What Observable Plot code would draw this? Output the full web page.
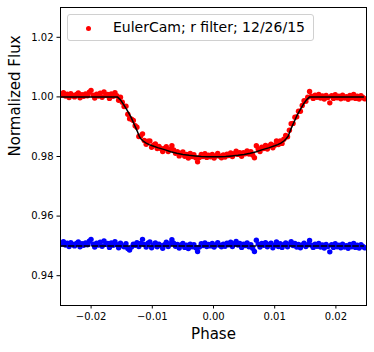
<!DOCTYPE html>
<html>
<head>
<meta charset="utf-8">
<script src="https://cdn.jsdelivr.net/npm/d3@7"></script>
<script src="https://cdn.jsdelivr.net/npm/@observablehq/plot@0.6"></script>
<style>
  html, body { margin: 0; padding: 0; background: #fff; }
  #wrap { position: relative; width: 374px; height: 352px; font-family: "DejaVu Sans", sans-serif; }
  #legend { position: absolute; left: 67px; top: 14px; width: 245px; height: 25px;
            border: 1px solid #d0d0d0; border-radius: 3px; background: rgba(255,255,255,0.8); }
  #legend .dot { position: absolute; left: 17.5px; top: 10.5px; width: 5px; height: 5px; border-radius: 50%; background: #ff0000; }
  #legend .txt { position: absolute; left: 45px; top: 3px; font-size: 14px; line-height: 18px; color: #000; white-space: nowrap; }
</style>
</head>
<body>
<div id="wrap">
  <div id="chart"></div>
  <div id="legend"><span class="dot"></span><span class="txt" id="legendText"></span></div>
</div>
<script>
const seriesLabel = "EulerCam; r filter; 12/26/15";
const xLabel = "Phase";
const yLabel = "Normalized Flux";
const xTicks = [-0.02, -0.01, 0.00, 0.01, 0.02];
const yTicks = [0.94, 0.96, 0.98, 1.00, 1.02];

const phase = [
  -0.02480, -0.02452, -0.02419, -0.02391, -0.02360, -0.02332, -0.02298, -0.02271, -0.02240, -0.02209,
  -0.02181, -0.02149, -0.02120, -0.02091, -0.02060, -0.02030, -0.02001, -0.01969, -0.01941, -0.01910,
  -0.01880, -0.01851, -0.01820, -0.01789, -0.01761, -0.01730, -0.01700, -0.01671, -0.01640, -0.01610,
  -0.01581, -0.01550, -0.01520, -0.01490, -0.01461, -0.01430, -0.01400, -0.01371, -0.01340, -0.01310,
  -0.01280, -0.01251, -0.01220, -0.01190, -0.01160, -0.01131, -0.01100, -0.01070, -0.01040, -0.01011,
  -0.00980, -0.00950, -0.00920, -0.00891, -0.00860, -0.00830, -0.00800, -0.00771, -0.00740, -0.00710,
  -0.00680, -0.00651, -0.00620, -0.00590, -0.00560, -0.00531, -0.00500, -0.00470, -0.00440, -0.00411,
  -0.00380, -0.00350, -0.00320, -0.00291, -0.00260, -0.00230, -0.00200, -0.00171, -0.00140, -0.00110,
  -0.00080, -0.00051, -0.00020, 0.00010, 0.00040, 0.00069, 0.00100, 0.00130, 0.00160, 0.00189,
  0.00220, 0.00250, 0.00280, 0.00309, 0.00340, 0.00370, 0.00400, 0.00429, 0.00460, 0.00490,
  0.00520, 0.00549, 0.00580, 0.00610, 0.00640, 0.00669, 0.00700, 0.00730, 0.00760, 0.00789,
  0.00820, 0.00850, 0.00880, 0.00909, 0.00940, 0.00970, 0.01000, 0.01029, 0.01060, 0.01090,
  0.01120, 0.01149, 0.01180, 0.01210, 0.01240, 0.01269, 0.01300, 0.01330, 0.01360, 0.01389,
  0.01420, 0.01450, 0.01480, 0.01509, 0.01540, 0.01570, 0.01600, 0.01629, 0.01660, 0.01690,
  0.01720, 0.01749, 0.01780, 0.01810, 0.01840, 0.01869, 0.01900, 0.01930, 0.01960, 0.01989,
  0.02020, 0.02050, 0.02080, 0.02109, 0.02140, 0.02170, 0.02200, 0.02229, 0.02260, 0.02290,
  0.02320, 0.02349, 0.02380, 0.02410, 0.02440, 0.02470
];

const eulerFlux = [
  1.0006, 1.0014, 1.0003, 1.0009, 0.9998, 1.0011, 1.0005, 1.0000, 1.0008, 1.0013,
  0.9997, 1.0007, 1.0002, 1.0010, 1.0004, 1.0016, 1.0022, 1.0006, 0.9996, 1.0009,
  1.0003, 1.0012, 0.9999, 1.0017, 1.0005, 1.0008, 0.9995, 1.0010, 1.0002, 1.0014,
  1.0004, 0.9989, 0.9999, 0.9982, 0.9968, 0.9969, 0.9942, 0.9927, 0.9925, 0.9921,
  0.9903, 0.9898, 0.9867, 0.9869, 0.9876, 0.9854, 0.9841, 0.9851, 0.9852, 0.9831,
  0.9838, 0.9842, 0.9827, 0.9834, 0.9827, 0.9817, 0.9827, 0.9833, 0.9817, 0.9824,
  0.9836, 0.9822, 0.9811, 0.9816, 0.9802, 0.9811, 0.9815, 0.9801, 0.9807, 0.9795,
  0.9810, 0.9800, 0.9806, 0.9796, 0.9782, 0.9797, 0.9807, 0.9800, 0.9809, 0.9797,
  0.9804, 0.9799, 0.9807, 0.9795, 0.9802, 0.9810, 0.9801, 0.9796, 0.9805, 0.9798,
  0.9808, 0.9803, 0.9812, 0.9800, 0.9809, 0.9818, 0.9807, 0.9813, 0.9801, 0.9813,
  0.9809, 0.9819, 0.9808, 0.9816, 0.9805, 0.9796, 0.9836, 0.9825, 0.9817, 0.9831,
  0.9827, 0.9837, 0.9825, 0.9835, 0.9841, 0.9829, 0.9838, 0.9852, 0.9840, 0.9852,
  0.9844, 0.9858, 0.9871, 0.9866, 0.9888, 0.9910, 0.9911, 0.9932, 0.9933, 0.9952,
  0.9952, 0.9971, 0.9987, 0.9985, 0.9999, 1.0018, 1.0002, 0.9995, 1.0006, 0.9999,
  1.0008, 0.9996, 1.0003, 0.9993, 1.0005, 0.9998, 0.9980, 1.0004, 0.9995, 1.0007,
  0.9997, 1.0002, 0.9994, 1.0006, 0.9996, 1.0001, 0.9992, 1.0005, 0.9997, 1.0008,
  0.9995, 1.0002, 0.9993, 1.0004, 0.9998, 0.9994
];

const residualFlux = [
  0.9506, 0.9514, 0.9503, 0.9509, 0.9498, 0.9511, 0.9505, 0.9500, 0.9508, 0.9513,
  0.9497, 0.9507, 0.9502, 0.9510, 0.9504, 0.9516, 0.9522, 0.9506, 0.9496, 0.9509,
  0.9503, 0.9512, 0.9499, 0.9517, 0.9505, 0.9508, 0.9495, 0.9510, 0.9502, 0.9514,
  0.9504, 0.9494, 0.9509, 0.9501, 0.9497, 0.9507, 0.9491, 0.9486, 0.9496, 0.9506,
  0.9502, 0.9511, 0.9498, 0.9508, 0.9522, 0.9505, 0.9496, 0.9509, 0.9513, 0.9494,
  0.9503, 0.9510, 0.9497, 0.9506, 0.9501, 0.9492, 0.9504, 0.9512, 0.9498, 0.9507,
  0.9521, 0.9509, 0.9499, 0.9505, 0.9493, 0.9503, 0.9508, 0.9495, 0.9502, 0.9491,
  0.9506, 0.9497, 0.9504, 0.9494, 0.9481, 0.9496, 0.9507, 0.9501, 0.9510, 0.9498,
  0.9505, 0.9500, 0.9508, 0.9496, 0.9503, 0.9511, 0.9502, 0.9497, 0.9506, 0.9499,
  0.9509, 0.9504, 0.9512, 0.9498, 0.9507, 0.9515, 0.9503, 0.9508, 0.9495, 0.9506,
  0.9501, 0.9510, 0.9497, 0.9504, 0.9492, 0.9481, 0.9519, 0.9506, 0.9496, 0.9508,
  0.9502, 0.9511, 0.9497, 0.9505, 0.9509, 0.9494, 0.9502, 0.9513, 0.9498, 0.9507,
  0.9495, 0.9504, 0.9510, 0.9497, 0.9506, 0.9514, 0.9501, 0.9508, 0.9496, 0.9505,
  0.9494, 0.9503, 0.9509, 0.9498, 0.9504, 0.9518, 0.9502, 0.9495, 0.9506, 0.9499,
  0.9508, 0.9496, 0.9503, 0.9493, 0.9505, 0.9498, 0.9480, 0.9504, 0.9495, 0.9507,
  0.9497, 0.9502, 0.9494, 0.9506, 0.9496, 0.9501, 0.9492, 0.9505, 0.9497, 0.9508,
  0.9495, 0.9502, 0.9493, 0.9504, 0.9498, 0.9494
];

const modelPhase = [
  -0.0250, -0.0157, -0.0152, -0.0147, -0.0141, -0.0135, -0.0130, -0.0125, -0.0121, -0.0118,
  -0.0115, -0.0110, -0.0105, -0.0100, -0.0090, -0.0080, -0.0070, -0.0060, -0.0050, -0.0040,
  -0.0030, -0.0020, -0.0010, 0.0000, 0.0010, 0.0020, 0.0030, 0.0040, 0.0050, 0.0060,
  0.0070, 0.0080, 0.0090, 0.0100, 0.0105, 0.0110, 0.0115, 0.0118, 0.0122, 0.0126,
  0.0131, 0.0136, 0.0142, 0.0147, 0.0152, 0.0157, 0.0245
];
const modelFlux = [
  1.0000, 1.0000, 0.9990, 0.9975, 0.9955, 0.9933, 0.9910, 0.9887, 0.9866, 0.9858,
  0.9852, 0.9845, 0.9840, 0.9836, 0.9829, 0.9823, 0.9816, 0.9811, 0.9807, 0.9804,
  0.9802, 0.9800, 0.9799, 0.9799, 0.9799, 0.9800, 0.9802, 0.9804, 0.9807, 0.9811,
  0.9816, 0.9823, 0.9829, 0.9836, 0.9840, 0.9845, 0.9852, 0.9858, 0.9868, 0.9890,
  0.9913, 0.9936, 0.9958, 0.9976, 0.9990, 1.0000, 1.0000
];

const residLinePhase = [-0.0250, 0.0245];
const residLineFlux = [0.95, 0.95];

const euler = phase.map((p, i) => ({phase: p, flux: eulerFlux[i]}));
const resid = phase.map((p, i) => ({phase: p, flux: residualFlux[i]}));
const model = modelPhase.map((p, i) => ({phase: p, flux: modelFlux[i]}));
const residLine = residLinePhase.map((p, i) => ({phase: p, flux: residLineFlux[i]}));

const fmt = d3.format(".2f");

const chart = Plot.plot({
  width: 374,
  height: 352,
  marginLeft: 60,
  marginRight: 8,
  marginTop: 7,
  marginBottom: 47,
  style: {fontFamily: "DejaVu Sans, sans-serif", fontSize: "10px", background: "#fff", color: "#000"},
  x: {domain: [-0.025, 0.025]},
  y: {domain: [0.93, 1.03]},
  marks: [
    Plot.dot(euler, {x: "phase", y: "flux", r: 2.7, fill: "#ff0000", stroke: "none", clip: true}),
    Plot.line(model, {x: "phase", y: "flux", stroke: "#000", strokeWidth: 1.5, clip: true}),
    Plot.dot(resid, {x: "phase", y: "flux", r: 2.7, fill: "#0000ff", stroke: "none", clip: true}),
    Plot.line(residLine, {x: "phase", y: "flux", stroke: "#000", strokeWidth: 1.5, strokeDasharray: "5.5,2.4", clip: true}),
    Plot.frame({stroke: "#000", strokeWidth: 1}),
    Plot.axisX(xTicks, {tickSize: 3.5, tickPadding: 3.5, tickFormat: fmt, fontSize: 10, label: null}),
    Plot.axisY(yTicks, {tickSize: 3.5, tickPadding: 3.5, tickFormat: fmt, fontSize: 10, label: null}),
    Plot.text([xLabel], {frameAnchor: "bottom", dy: 33, fontSize: 15, text: d => d}),
    Plot.text([yLabel], {frameAnchor: "left", dx: -45, rotate: -90, fontSize: 15, text: d => d})
  ]
});

document.getElementById("chart").appendChild(chart);
document.getElementById("legendText").textContent = seriesLabel;
</script>
</body>
</html>
